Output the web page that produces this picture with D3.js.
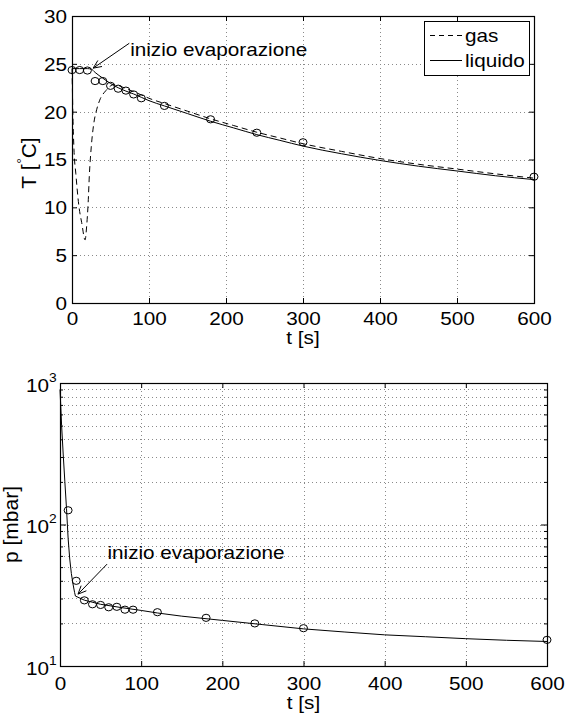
<!DOCTYPE html>
<html><head><meta charset="utf-8">
<script src="https://cdn.jsdelivr.net/npm/d3@7"></script>
<style>
html,body{margin:0;padding:0;background:#fff;}
svg{display:block;}
text{font-family:"Liberation Sans",Arial,Helvetica,sans-serif;fill:#000;}
</style></head>
<body><svg id="c" width="570" height="715"></svg>
<script>
// ---------- data ----------
const xTicks = [0,100,200,300,400,500,600];
const tTicks = [0,5,10,15,20,25,30];
const pMajorTicks = [10,100,1000];
const pMajorExp = ["1","2","3"];
const pMinorTicks = [20,30,40,50,60,70,80,90,200,300,400,500,600,700,800,900];

// experimental temperature
const tExpT = [0,10,20,30,40,50,60,70,80,90,120,180,240,300,600];
const TExp  = [24.35,24.35,24.3,23.2,23.2,22.7,22.4,22.2,21.8,21.4,20.6,19.2,17.8,16.8,13.2];

// model: liquid temperature
const tLiq = [0,10,20,25,30,40,50,60,70,80,90,100,120,150,180,210,240,270,300,350,400,450,500,550,600];
const TLiq = [24.5,24.5,24.5,24.45,24.1,23.5,22.95,22.5,22.15,21.85,21.5,21.15,20.6,19.8,19.0,18.3,17.6,17.0,16.4,15.6,14.9,14.3,13.8,13.3,12.9];

// model: gas temperature
const tGas = [0,0.5,1,2.6,5,9,12.6,17,19,21,22.5,25,28,32,36,44,55,60,70,80,90,100,120,150,180,210,240,270,300,350,400,450,500,550,600];
const TGas = [24.5,22.5,20.2,16,13.5,10.1,8.4,6.6,8,10.5,13.3,16.3,18.6,20.2,21.2,22.2,22.85,22.75,22.4,22.1,21.75,21.4,20.85,20.05,19.25,18.55,17.85,17.25,16.65,15.85,15.1,14.5,14.0,13.5,13.05];

// experimental pressure
const tExpP = [10,20,30,40,50,60,70,80,90,120,180,240,300,600];
const pExp  = [126,40,29.1,27.3,27.0,26.0,26.2,25.0,25.0,24.0,21.9,20.0,18.5,15.3];

// model pressure
const tMod = [0,2,4,6,8,10,12,14,16,18,19,30,50,75,100,120,150,200,250,300,350,400,450,500,550,600];
const pMod = [900,500,310,200,130,80,57,45,38,33,31.2,29.2,27.3,25.9,24.7,23.7,22.5,21.0,19.6,18.3,17.4,16.6,16.1,15.6,15.2,14.9];

const legendLabels = ["gas","liquido"];
const annoText = "inizio evaporazione";
// annotation anchors in data units [t, value]
const annoTopTail = [74.4, 27.15], annoTopTip = [27.5, 24.55], annoTopText = [75.5, 25.8];
const annoBotTail = [58, 52.5], annoBotTip = [22.2, 32.2], annoBotText = [58.5, 57];

// ---------- layout ----------
const SX = 1.15;                 // horizontal stretch of the reference text
const FS = 18;
const svg = d3.select("#c");
const P1 = {x0:72, x1:534, y0:16, y1:303};
const P2 = {x0:60, x1:547, y0:383, y1:666};

const x1 = d3.scaleLinear().domain([0,600]).range([P1.x0,P1.x1]);
const y1 = d3.scaleLinear().domain([0,30]).range([P1.y1,P1.y0]);
const x2 = d3.scaleLinear().domain([0,600]).range([P2.x0,P2.x1]);
const y2 = d3.scaleLog().domain([10,1000]).range([P2.y1,P2.y0]);

function stext(parent, x, y, str, anchor, extra){
  const t = parent.append("text")
    .attr("transform", `translate(${x},${y}) scale(${SX},1)` + (extra||""))
    .attr("font-size", FS).attr("text-anchor", anchor||"start");
  if (str !== null) t.text(str);
  return t;
}

function arrow(g, x0, y0, x1_, y1_){
  g.append("line").attr("x1",x0).attr("y1",y0).attr("x2",x1_).attr("y2",y1_)
    .attr("stroke","#000").attr("stroke-width",1);
  const a = Math.atan2(y0-y1_, x0-x1_), L = 9, w = 0.42;
  [a+w, a-w].forEach(b=>{
    g.append("line").attr("x1",x1_).attr("y1",y1_)
      .attr("x2",x1_+L*Math.cos(b)).attr("y2",y1_+L*Math.sin(b))
      .attr("stroke","#000").attr("stroke-width",1);
  });
}

const gridStyle = s => s.attr("stroke","#8a8a8a").attr("stroke-width",1).attr("stroke-dasharray","1,3");

// ================= TOP PLOT =================
const g1 = svg.append("g");
g1.selectAll(".vg").data(xTicks.slice(1,-1)).enter().append("line")
  .attr("x1",d=>Math.round(x1(d))+0.5).attr("x2",d=>Math.round(x1(d))+0.5)
  .attr("y1",P1.y0).attr("y2",P1.y1).call(gridStyle);
g1.selectAll(".hg").data(tTicks.slice(1,-1)).enter().append("line")
  .attr("y1",d=>Math.round(y1(d))+0.5).attr("y2",d=>Math.round(y1(d))+0.5)
  .attr("x1",P1.x0).attr("x2",P1.x1).call(gridStyle);

function styleAxis(g){
  g.select(".domain").remove();
  g.selectAll(".tick line").attr("stroke","#000");
  g.attr("font-family",null).attr("font-size",null);
}
const axB1 = g1.append("g").attr("transform",`translate(0,${P1.y1})`)
  .call(d3.axisBottom(x1).tickValues(xTicks).tickSize(-5).tickFormat(d3.format("d"))).call(styleAxis);
axB1.selectAll(".tick text").attr("font-size",FS)
  .attr("transform",`scale(${SX},1)`).attr("y",22).attr("dy",0);
g1.append("g").attr("transform",`translate(0,${P1.y0})`)
  .call(d3.axisTop(x1).tickValues(xTicks).tickSize(-5).tickFormat("")).call(styleAxis);
const axL1 = g1.append("g").attr("transform",`translate(${P1.x0},0)`)
  .call(d3.axisLeft(y1).tickValues(tTicks).tickSize(-5).tickFormat(d3.format("d"))).call(styleAxis);
axL1.selectAll(".tick text").attr("font-size",FS)
  .attr("transform",`scale(${SX},1)`).attr("x",-5/SX).attr("dy","0.36em");
g1.append("g").attr("transform",`translate(${P1.x1},0)`)
  .call(d3.axisRight(y1).tickValues(tTicks).tickSize(-5).tickFormat("")).call(styleAxis);

const lineT = d3.line().x(d=>x1(d[0])).y(d=>y1(d[1])).curve(d3.curveMonotoneX);
g1.append("path").datum(tGas.map((t,i)=>[t,TGas[i]])).attr("d",lineT)
  .attr("fill","none").attr("stroke","#000").attr("stroke-width",1).attr("stroke-dasharray","6,4");
g1.append("path").datum(tLiq.map((t,i)=>[t,TLiq[i]])).attr("d",lineT)
  .attr("fill","none").attr("stroke","#000").attr("stroke-width",1);
g1.selectAll(".pt").data(tExpT.map((t,i)=>[t,TExp[i]])).enter().append("ellipse")
  .attr("cx",d=>x1(d[0])).attr("cy",d=>y1(d[1])).attr("rx",4).attr("ry",3.6)
  .attr("fill","none").attr("stroke","#000").attr("stroke-width",1);

g1.append("rect").attr("x",P1.x0+0.5).attr("y",P1.y0+0.5).attr("width",P1.x1-P1.x0).attr("height",P1.y1-P1.y0)
  .attr("fill","none").attr("stroke","#000").attr("stroke-width",1.2);

arrow(g1, x1(annoTopTail[0]), y1(annoTopTail[1]), x1(annoTopTip[0]), y1(annoTopTip[1]));
stext(g1, x1(annoTopText[0]), y1(annoTopText[1]), annoText);

// legend
const lg = g1.append("g");
lg.append("rect").attr("x",424.5).attr("y",21.5).attr("width",105).attr("height",54)
  .attr("fill","#fff").attr("stroke","#000").attr("stroke-width",1);
lg.append("line").attr("x1",430).attr("x2",462).attr("y1",35.5).attr("y2",35.5)
  .attr("stroke","#000").attr("stroke-dasharray","5,4");
lg.append("line").attr("x1",430).attr("x2",462).attr("y1",60.5).attr("y2",60.5).attr("stroke","#000");
stext(lg, 465, 41.5, legendLabels[0]);
stext(lg, 465, 66.5, legendLabels[1]);

// axis labels
stext(g1, 303, 344, "t [s]", "middle");
const yl1 = g1.append("text").attr("transform","translate(36,163) rotate(-90)")
  .attr("font-size",21).attr("text-anchor","middle");
yl1.append("tspan").text("T [");
yl1.append("tspan").attr("font-size",13).attr("dy",-10).attr("dx",1).text("°");
yl1.append("tspan").attr("dy",10).text("C]");

// ================= BOTTOM PLOT =================
const g2 = svg.append("g");
g2.selectAll(".vg").data(xTicks.slice(1,-1)).enter().append("line")
  .attr("x1",d=>Math.round(x2(d))+0.5).attr("x2",d=>Math.round(x2(d))+0.5)
  .attr("y1",P2.y0).attr("y2",P2.y1).call(gridStyle);
g2.selectAll(".hg").data(pMinorTicks.concat([100])).enter().append("line")
  .attr("y1",d=>Math.round(y2(d))+0.5).attr("y2",d=>Math.round(y2(d))+0.5)
  .attr("x1",P2.x0).attr("x2",P2.x1).call(gridStyle);

const axB2 = g2.append("g").attr("transform",`translate(0,${P2.y1})`)
  .call(d3.axisBottom(x2).tickValues(xTicks).tickSize(-5).tickFormat(d3.format("d"))).call(styleAxis);
axB2.selectAll(".tick text").attr("font-size",FS)
  .attr("transform",`scale(${SX},1)`).attr("y",24).attr("dy",0);
g2.append("g").attr("transform",`translate(0,${P2.y0})`)
  .call(d3.axisTop(x2).tickValues(xTicks).tickSize(-5).tickFormat("")).call(styleAxis);
g2.append("g").attr("transform",`translate(${P2.x0},0)`)
  .call(d3.axisLeft(y2).tickValues(pMajorTicks).tickSize(-6).tickFormat("")).call(styleAxis);
g2.append("g").attr("transform",`translate(${P2.x0},0)`)
  .call(d3.axisLeft(y2).tickValues(pMinorTicks).tickSize(-3).tickFormat("")).call(styleAxis);
g2.append("g").attr("transform",`translate(${P2.x1},0)`)
  .call(d3.axisRight(y2).tickValues(pMajorTicks).tickSize(-6).tickFormat("")).call(styleAxis);
g2.append("g").attr("transform",`translate(${P2.x1},0)`)
  .call(d3.axisRight(y2).tickValues(pMinorTicks).tickSize(-3).tickFormat("")).call(styleAxis);

pMajorTicks.forEach((v,i)=>{
  const t = stext(g2, 26, y2(v)+8.5, null, "start");
  t.append("tspan").text("10");
  t.append("tspan").attr("font-size",12).attr("dy",-10).text(pMajorExp[i]);
});

const lineP = d3.line().x(d=>x2(d[0])).y(d=>y2(d[1]));
g2.append("path").datum(tMod.map((t,i)=>[t,pMod[i]])).attr("d",lineP)
  .attr("fill","none").attr("stroke","#000").attr("stroke-width",1);
g2.selectAll(".pt").data(tExpP.map((t,i)=>[t,pExp[i]])).enter().append("ellipse")
  .attr("cx",d=>x2(d[0])).attr("cy",d=>y2(d[1])).attr("rx",4).attr("ry",3.6)
  .attr("fill","none").attr("stroke","#000").attr("stroke-width",1);

g2.append("rect").attr("x",P2.x0+0.5).attr("y",P2.y0+0.5).attr("width",P2.x1-P2.x0).attr("height",P2.y1-P2.y0)
  .attr("fill","none").attr("stroke","#000").attr("stroke-width",1.2);

arrow(g2, x2(annoBotTail[0]), y2(annoBotTail[1]), x2(annoBotTip[0]), y2(annoBotTip[1]));
stext(g2, x2(annoBotText[0]), y2(annoBotText[1]), annoText);

stext(g2, 303.5, 709, "t [s]", "middle");
g2.append("text").attr("transform","translate(17.5,524.5) rotate(-90)")
  .attr("font-size",21).attr("text-anchor","middle").text("p [mbar]");
</script></body></html>
